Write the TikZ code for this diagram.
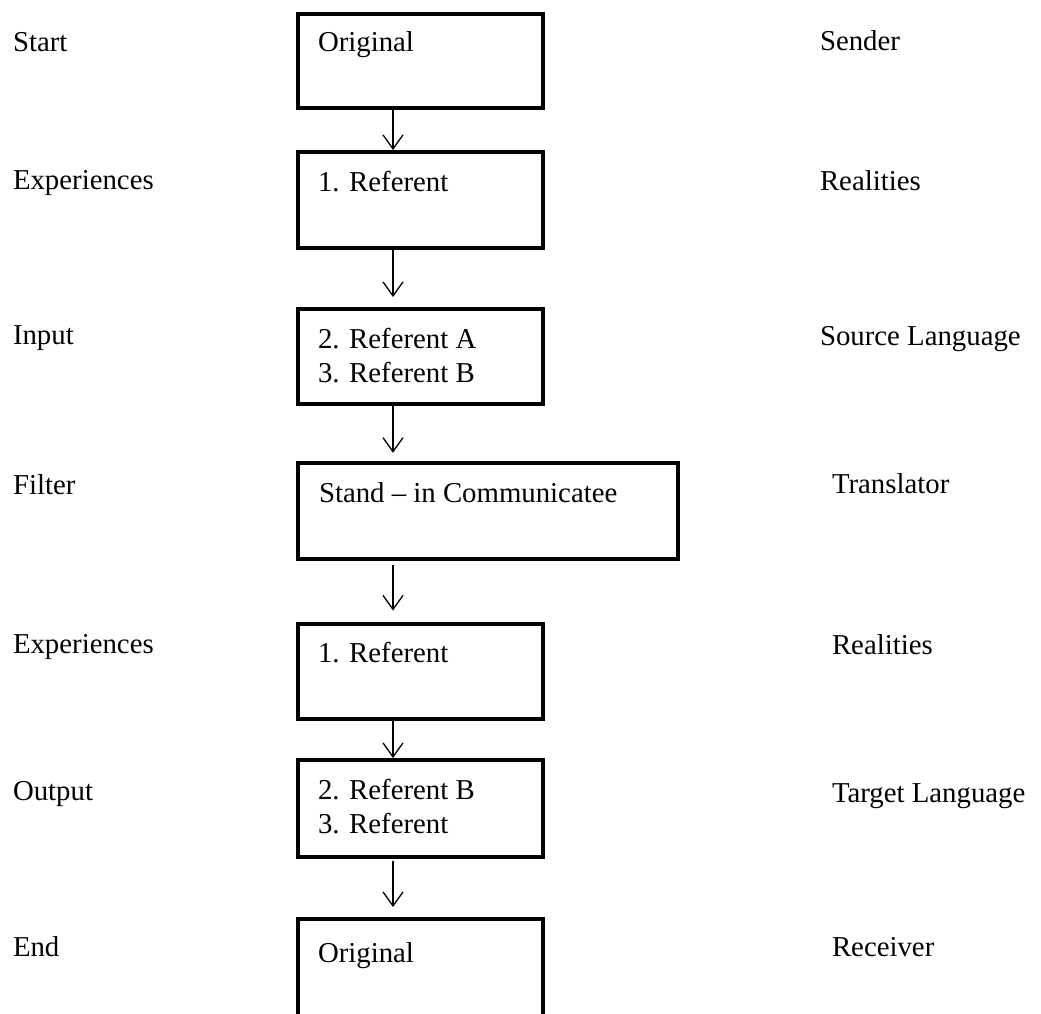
\documentclass[tikz,border=0pt]{standalone}
\usepackage{fontspec}
\setmainfont{Liberation Serif}
\usetikzlibrary{arrows.meta}
\begin{document}
\begin{tikzpicture}[x=1pt,y=-1pt,
  every node/.style={font=\fontsize{28.8}{34}\selectfont},
  lbl/.style={anchor=base west,inner sep=0pt,outer sep=0pt},
  boxnode/.style={draw,line width=4pt,rectangle,minimum width=245pt,inner sep=0pt},
  arr/.style={line width=1.3pt,-{Straight Barb[length=14pt,width=20pt,line width=1.3pt]}}]
\useasboundingbox (0,0) rectangle (1041,1013);
\clip (0,0) rectangle (1041,1013);
% boxes
\node[boxnode,minimum height=94pt] (b1) at (420,61) {};
\node[boxnode,minimum height=96pt] (b2) at (420,200) {};
\node[boxnode,minimum height=95pt] (b3) at (420,356.5) {};
\node[boxnode,minimum height=96.5pt,minimum width=380.5pt] (b4) at (487.75,511) {};
\node[boxnode,minimum height=95.5pt] (b5) at (420,671.25) {};
\node[boxnode,minimum height=96.5pt] (b6) at (420,808.25) {};
\node[boxnode,minimum height=140pt] (b7) at (420,989) {};
% box texts
\node[lbl] (t1) at (318,51) {Original};
\node[lbl] (t2) at (318,191) {1. Referent};
\node[lbl] (t3a) at (318,348) {2. Referent A};
\node[lbl] (t3b) at (318,382) {3. Referent B};
\node[lbl] (t4) at (319,502) {Stand – in Communicatee};
\node[lbl] (t5) at (318,662) {1. Referent};
\node[lbl] (t6a) at (318,799) {2. Referent B};
\node[lbl] (t6b) at (318,833) {3. Referent};
\node[lbl] (t7) at (318,962) {Original};
% left labels
\node[lbl] (l1) at (13,51) {Start};
\node[lbl] (l2) at (13,189) {Experiences};
\node[lbl] (l3) at (13,344) {Input};
\node[lbl] (l4) at (13,494) {Filter};
\node[lbl] (l5) at (13,653) {Experiences};
\node[lbl] (l6) at (13,800) {Output};
\node[lbl] (l7) at (13,956) {End};
% right labels
\node[lbl] (r1) at (820,50) {Sender};
\node[lbl] (r2) at (820,190) {Realities};
\node[lbl] (r3) at (820,345) {Source Language};
\node[lbl] (r4) at (832,493) {Translator};
\node[lbl] (r5) at (832,654) {Realities};
\node[lbl] (r6) at (832,802) {Target Language};
\node[lbl] (r7) at (832,956) {Receiver};
% arrows
\coordinate (ax) at (393,0);
\draw[arr] (b1.south -| ax) -- (b2.north -| ax);
\draw[arr,shorten >=10pt] (b2.south -| ax) -- (b3.north -| ax);
\draw[arr,shorten >=8pt] (b3.south -| ax) -- (b4.north -| ax);
\draw[arr,shorten <=4pt,shorten >=11pt] (b4.south -| ax) -- (b5.north -| ax);
\draw[arr] (b5.south -| ax) -- (b6.north -| ax);
\draw[arr,shorten <=2pt,shorten >=10pt] (b6.south -| ax) -- (b7.north -| ax);
\end{tikzpicture}
\end{document}
